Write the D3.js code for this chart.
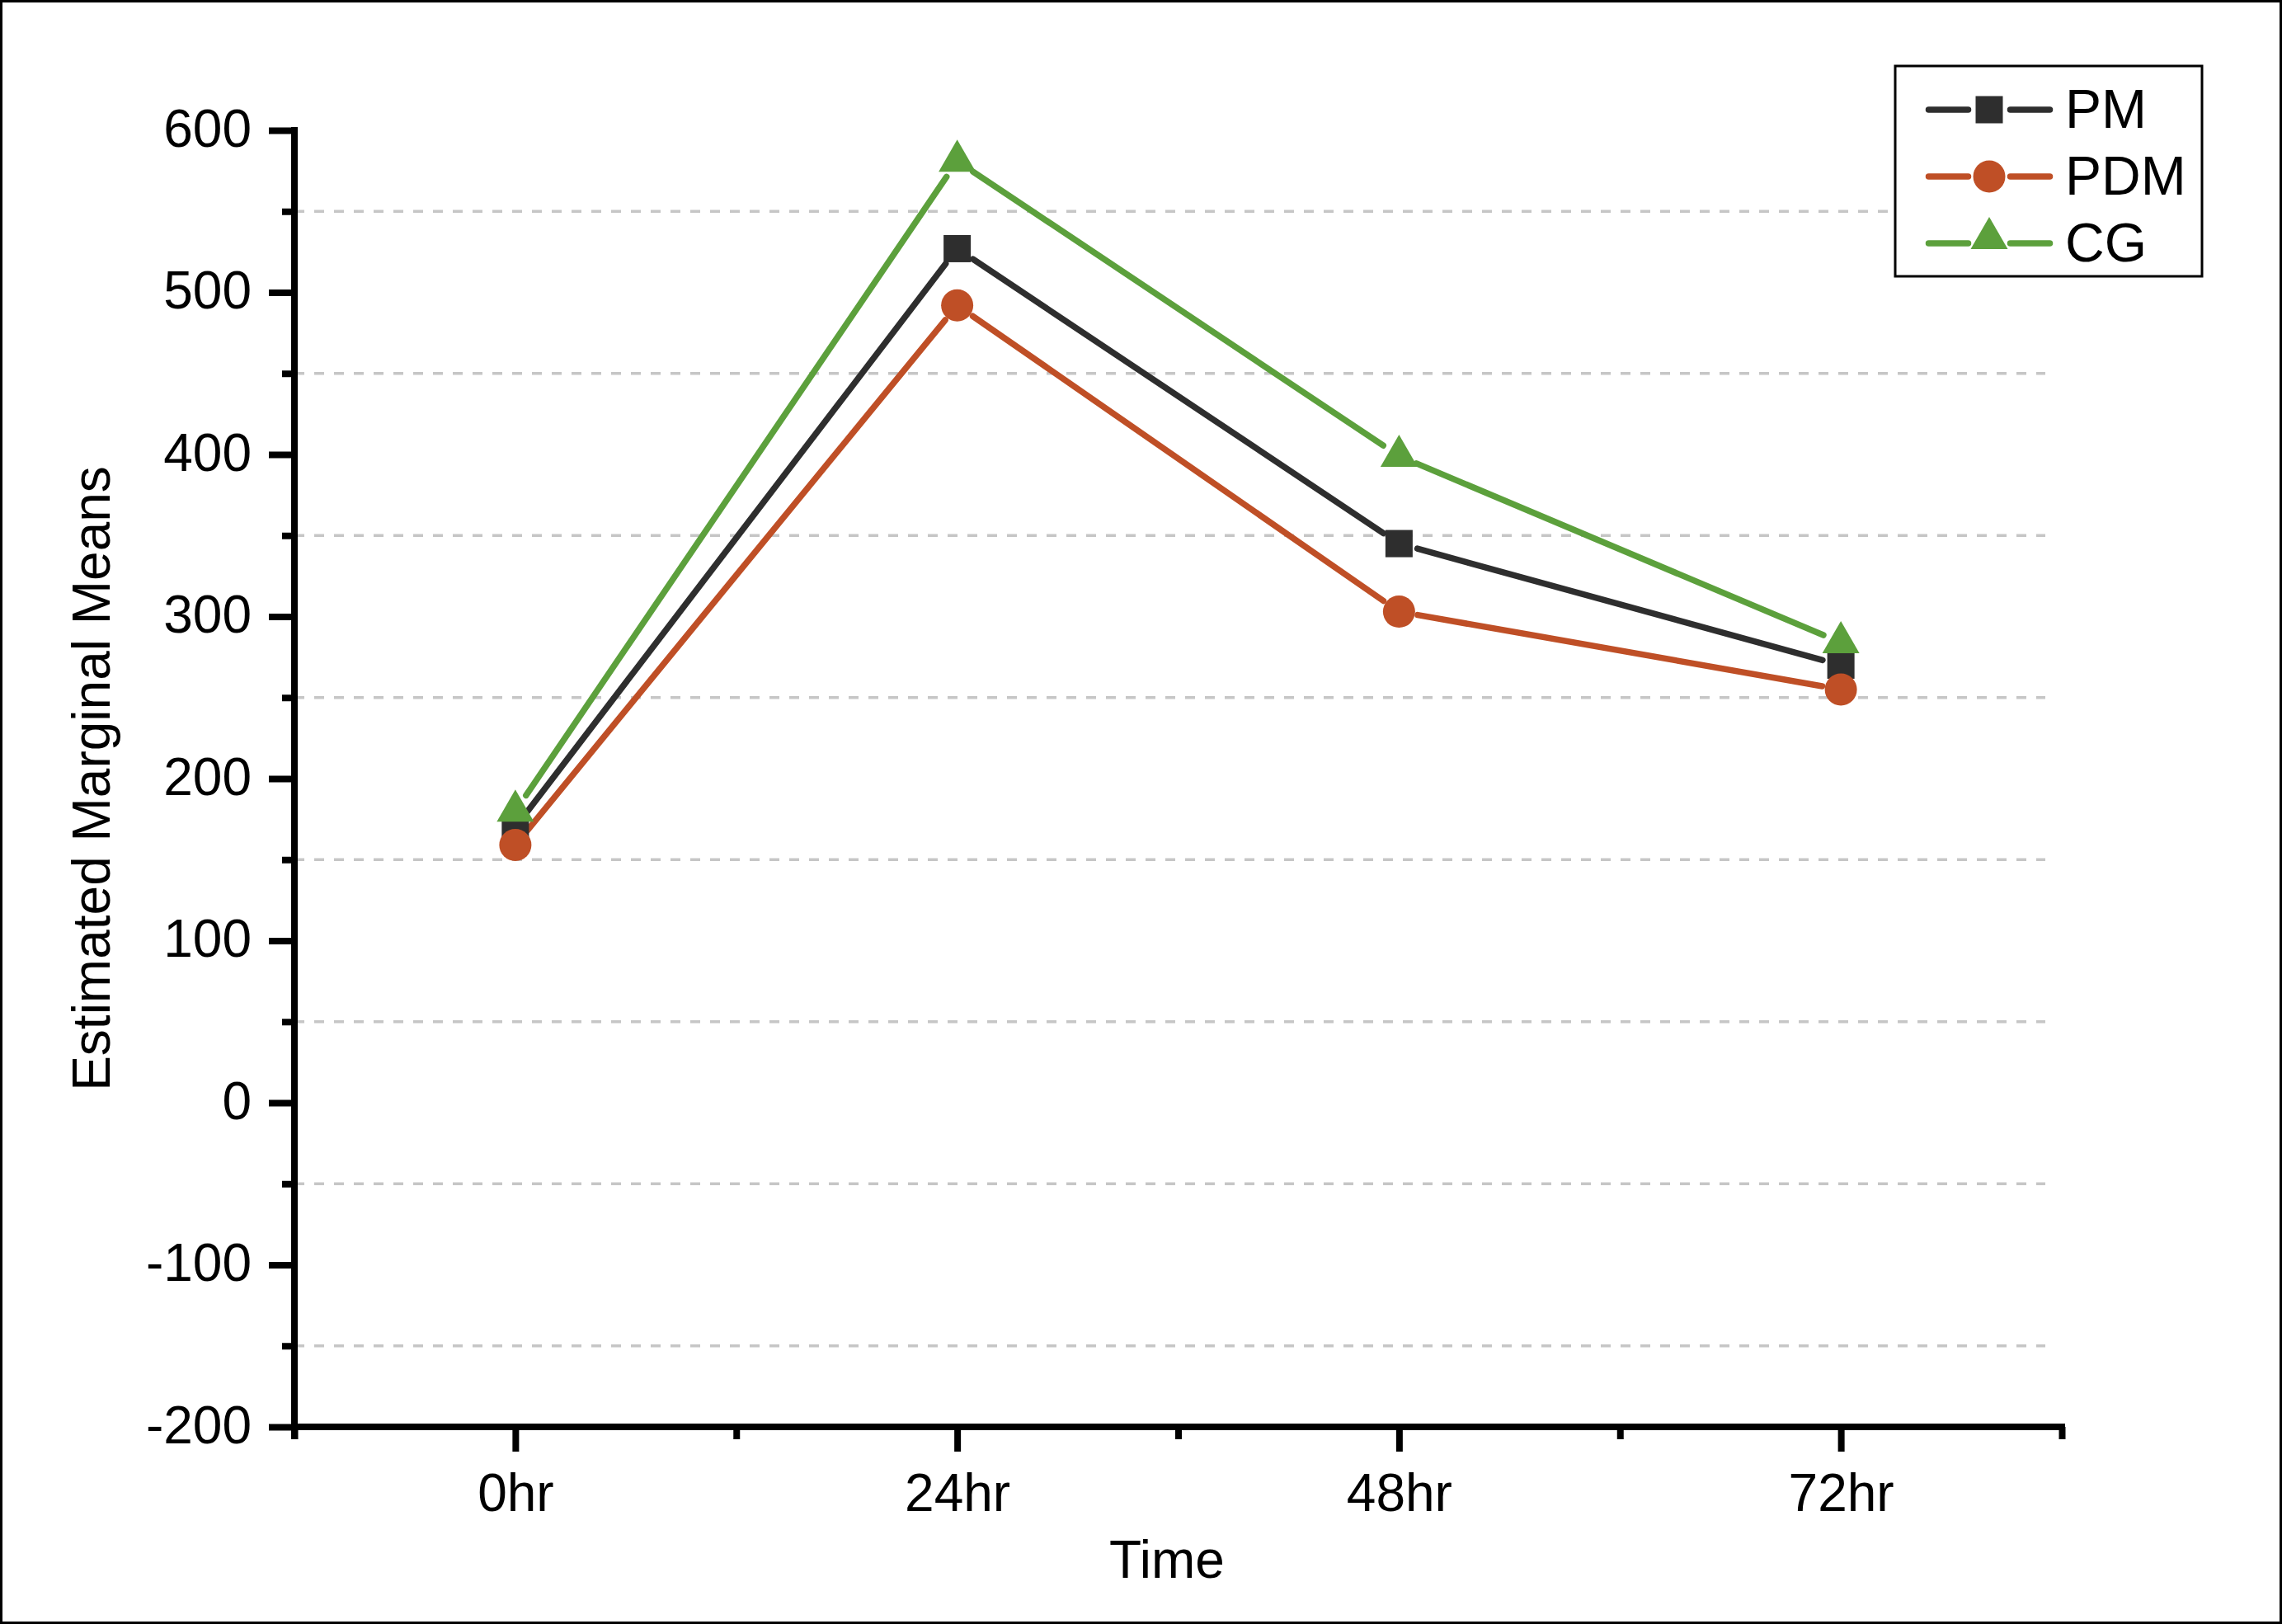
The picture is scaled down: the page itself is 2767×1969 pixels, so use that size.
<!DOCTYPE html>
<html>
<head>
<meta charset="utf-8">
<script src="https://cdn.jsdelivr.net/npm/d3@7"></script>
<style>
  html, body { margin: 0; padding: 0; background: #fff; }
  svg text { font-family: "Liberation Sans", Arial, Helvetica, sans-serif; fill: #000; }
</style>
</head>
<body>
<svg id="chart" width="2767" height="1969"></svg>
<script>
// ---- data ----
const categories = ["0hr", "24hr", "48hr", "72hr"];
const seriesNames = ["PM", "PDM", "CG"];
const pmValues = [170, 527, 345, 270];
const pdmValues = [159, 492, 303, 255];
const cgValues = [180, 581, 399, 284];
const yTicks = [-200, -100, 0, 100, 200, 300, 400, 500, 600];
const yMinorTicks = [-150, -50, 50, 150, 250, 350, 450, 550];
const xTitle = "Time";
const yTitle = "Estimated Marginal Means";

// ---- styles ----
const colors = { PM: "#2e2e2e", PDM: "#bf4f26", CG: "#5ca03c" };
const shapes = { PM: "square", PDM: "circle", CG: "triangle" };
const valuesBy = { PM: pmValues, PDM: pdmValues, CG: cgValues };

const svg = d3.select("#chart");
const W = 2767, H = 1969;
svg.append("rect").attr("x", 1.5).attr("y", 1.5).attr("width", W - 3).attr("height", H - 3)
  .attr("fill", "#fff").attr("stroke", "#000").attr("stroke-width", 3);

const x = d3.scaleLinear().domain([-0.5, categories.length - 0.5]).range([357, 2500]);
const y = d3.scaleLinear().domain([-200, 600]).range([1730, 158]);

// grid lines (dashed) at minor y ticks
svg.append("g").selectAll("line").data(yMinorTicks).join("line")
  .attr("x1", x(-0.5)).attr("x2", 2480)
  .attr("y1", d => y(d)).attr("y2", d => y(d))
  .attr("stroke", "#c6c6c6").attr("stroke-width", 3.5).attr("stroke-dasharray", "12,12");

// y axis major
const gy = svg.append("g").attr("transform", `translate(${x(-0.5)},0)`)
  .call(d3.axisLeft(y).tickValues(yTicks).tickSize(31).tickPadding(0).tickFormat(d => String(d)));
gy.select(".domain").remove();
gy.selectAll(".tick line").attr("stroke", "#000").attr("stroke-width", 8);
gy.selectAll(".tick text").attr("x", -52).attr("dy", 19).attr("font-size", 64).attr("fill", "#000")
  .attr("text-anchor", "end").attr("font-family", "Liberation Sans, Arial, sans-serif");
// y axis minor
const gym = svg.append("g").attr("transform", `translate(${x(-0.5)},0)`)
  .call(d3.axisLeft(y).tickValues(yMinorTicks).tickSize(15).tickFormat(""));
gym.select(".domain").remove();
gym.selectAll(".tick line").attr("stroke", "#000").attr("stroke-width", 8);

// x axis major
const gx = svg.append("g").attr("transform", `translate(0,${y(-200)})`)
  .call(d3.axisBottom(x).tickValues(d3.range(categories.length)).tickSize(30).tickPadding(0)
    .tickFormat(i => categories[i]));
gx.select(".domain").remove();
gx.selectAll(".tick line").attr("stroke", "#000").attr("stroke-width", 8);
gx.selectAll(".tick text").attr("y", 102).attr("dy", 0).attr("font-size", 64).attr("fill", "#000")
  .attr("font-family", "Liberation Sans, Arial, sans-serif");
// x axis minor
const xMinor = d3.range(categories.length + 1).map(i => i - 0.5);
const gxm = svg.append("g").attr("transform", `translate(0,${y(-200)})`)
  .call(d3.axisBottom(x).tickValues(xMinor).tickSize(15).tickFormat(""));
gxm.select(".domain").remove();
gxm.selectAll(".tick line").attr("stroke", "#000").attr("stroke-width", 8);

// axis lines
svg.append("line").attr("x1", x(-0.5)).attr("x2", x(-0.5)).attr("y1", y(600) - 4).attr("y2", y(-200) + 15)
  .attr("stroke", "#000").attr("stroke-width", 8);
svg.append("line").attr("x1", x(-0.5) - 4).attr("x2", x(categories.length - 0.5) + 4)
  .attr("y1", y(-200)).attr("y2", y(-200)).attr("stroke", "#000").attr("stroke-width", 8);

// axis titles
svg.append("text").attr("x", 1415).attr("y", 1913).attr("text-anchor", "middle")
  .attr("font-size", 64).text(xTitle);
svg.append("text").attr("transform", `translate(133,${(y(600) + y(-200)) / 2}) rotate(-90)`)
  .attr("text-anchor", "middle").attr("font-size", 64).text(yTitle);

// marker drawing
function drawMarker(g, shape, cx, cy, color) {
  if (shape === "square") {
    g.append("rect").attr("x", cx - 16.5).attr("y", cy - 16.5).attr("width", 33).attr("height", 33)
      .attr("fill", color);
  } else if (shape === "circle") {
    g.append("circle").attr("cx", cx).attr("cy", cy).attr("r", 19.5).attr("fill", color);
  } else {
    const h = 39, hw = 22.5;
    g.append("path")
      .attr("d", `M${cx},${cy - 2 * h / 3}L${cx + hw},${cy + h / 3}L${cx - hw},${cy + h / 3}Z`)
      .attr("fill", color);
  }
}

const gap = 23;
const plot = svg.append("g");
seriesNames.forEach(name => {
  const vals = valuesBy[name];
  const pts = vals.map((v, i) => [x(i), y(v)]);
  const g = plot.append("g");
  for (let i = 0; i < pts.length - 1; i++) {
    const [x1, y1] = pts[i], [x2, y2] = pts[i + 1];
    const d = Math.hypot(x2 - x1, y2 - y1);
    const ux = (x2 - x1) / d, uy = (y2 - y1) / d;
    g.append("line")
      .attr("x1", x1 + ux * gap).attr("y1", y1 + uy * gap)
      .attr("x2", x2 - ux * gap).attr("y2", y2 - uy * gap)
      .attr("stroke", colors[name]).attr("stroke-width", 7.5).attr("stroke-linecap", "round");
  }
});
seriesNames.forEach(name => {
  const vals = valuesBy[name];
  const g = plot.append("g");
  vals.forEach((v, i) => drawMarker(g, shapes[name], x(i), y(v), colors[name]));
});

// legend
const lg = svg.append("g");
lg.append("rect").attr("x", 2298).attr("y", 80).attr("width", 372).attr("height", 255)
  .attr("fill", "#fff").attr("stroke", "#000").attr("stroke-width", 3);
const rowY = [133, 214, 295];
seriesNames.forEach((name, i) => {
  const ry = rowY[i];
  [[2338.5, 2386.5], [2437.5, 2485.5]].forEach(([a, b]) => {
    lg.append("line").attr("x1", a).attr("x2", b).attr("y1", ry).attr("y2", ry)
      .attr("stroke", colors[name]).attr("stroke-width", 7.5).attr("stroke-linecap", "round");
  });
  drawMarker(lg, shapes[name], 2412, shapes[name] === "triangle" ? ry - 6 : ry, colors[name]);
  lg.append("text").attr("x", 2504).attr("y", ry + 22).attr("font-size", 66).text(name);
});
</script>
</body>
</html>
